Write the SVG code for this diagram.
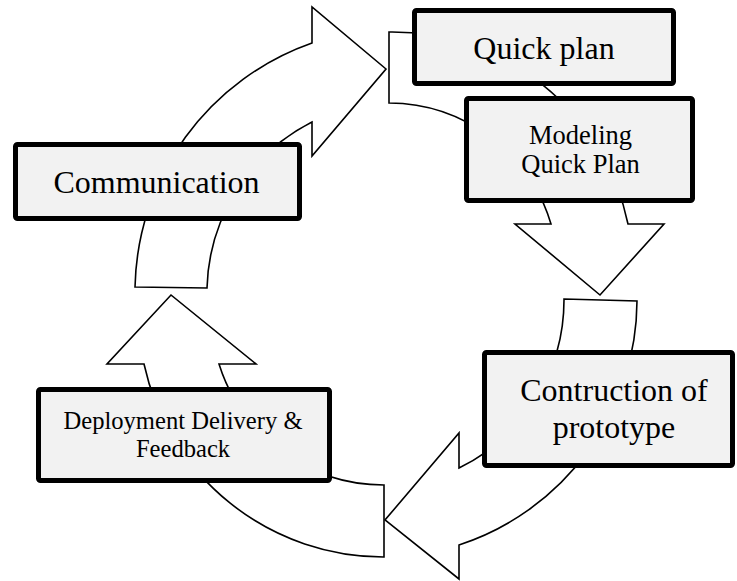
<svg xmlns="http://www.w3.org/2000/svg" width="737" height="581" viewBox="0 0 737 581">
<style>
.arrow{fill:#ffffff;stroke:#000000;stroke-width:1.6;stroke-linejoin:miter}
.box{fill:#f2f2f2;stroke:#000000;stroke-width:5}
.t{font-family:"Liberation Serif","Times New Roman",serif;fill:#000000;text-anchor:middle}
</style>
<rect width="737" height="581" fill="#ffffff"/>
<g id="connectors">
<path class="arrow" d="M135,287 L207,288 A192,192 0 0 1 312,122 L312,156 L386,69 L312,7 L312,43 A264.5,264.5 0 0 0 135,287 Z"/>
<path class="arrow" d="M389,103 L389,32 A241,241 0 0 1 628,224 L664,224 L600,295 L515,224 L551,224 A170,170 0 0 0 389,103 Z"/>
<path class="arrow" d="M564,299 L637,301 A258,258 0 0 1 459,545 L459,579 L385,520 L459,433 L459,468 A187,187 0 0 0 564,299 Z"/>
<path class="arrow" d="M384,485 L384,557 A245,245 0 0 1 144,364 L107,364 L171,295 L256,364 L219,364 A173,173 0 0 0 384,485 Z"/>
</g>
<g id="quick-plan">
<rect class="box" x="414.5" y="10.5" width="259" height="73" rx="2"/>
<text class="t" x="544" y="59" font-size="32">Quick plan</text>
</g>
<g id="modeling">
<rect class="box" x="466.5" y="98.5" width="226" height="102" rx="2"/>
<text class="t" x="580.5" y="144" font-size="26.5">Modeling</text>
<text class="t" x="580.5" y="173" font-size="26.5">Quick Plan</text>
</g>
<g id="communication">
<rect class="box" x="15.5" y="144.5" width="284" height="74" rx="2"/>
<text class="t" x="156.5" y="193" font-size="32">Communication</text>
</g>
<g id="construction">
<rect class="box" x="484.5" y="352.5" width="248" height="113" rx="2"/>
<text class="t" x="614" y="401" font-size="32">Contruction of</text>
<text class="t" x="614" y="438" font-size="32">prototype</text>
</g>
<g id="deployment">
<rect class="box" x="38.5" y="389.5" width="291" height="91" rx="2"/>
<text class="t" x="183" y="429" font-size="24.6">Deployment Delivery &amp;</text>
<text class="t" x="183" y="457" font-size="24.6">Feedback</text>
</g>
</svg>
